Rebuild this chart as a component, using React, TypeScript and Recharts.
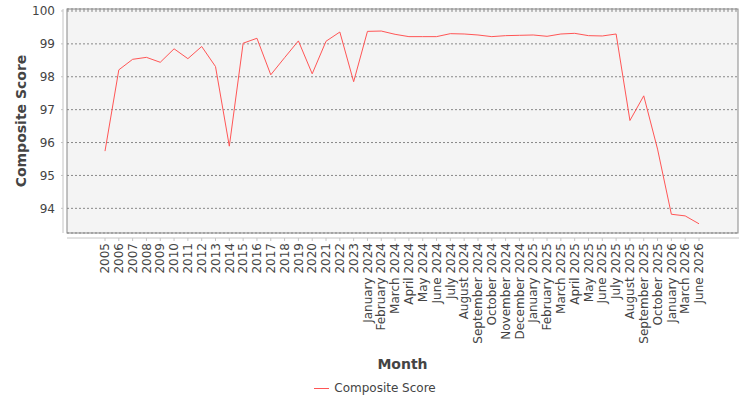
import { LineChart, Line, XAxis, YAxis, CartesianGrid, Legend, usePlotArea } from "recharts";

const months = [
    "2005", "2006", "2007", "2008", "2009", "2010", "2011", "2012", "2013", "2014",
    "2015", "2016", "2017", "2018", "2019", "2020", "2021", "2022", "2023",
    "January 2024", "February 2024", "March 2024", "April 2024", "May 2024", "June 2024",
    "July 2024", "August 2024", "September 2024", "October 2024", "November 2024", "December 2024",
    "January 2025", "February 2025", "March 2025", "April 2025", "May 2025", "June 2025",
    "July 2025", "August 2025", "September 2025", "October 2025",
    "January 2026", "March 2026", "June 2026",
];

const compositeScore = [
    95.74, 98.21, 98.53, 98.59, 98.44, 98.85, 98.55, 98.92, 98.31, 95.89,
    99.02, 99.17, 98.06, 98.58, 99.09, 98.09, 99.08, 99.36, 97.85,
    99.38, 99.39, 99.29, 99.22, 99.22, 99.22,
    99.31, 99.30, 99.27, 99.22, 99.25, 99.26,
    99.27, 99.23, 99.30, 99.32, 99.25, 99.24,
    99.30, 96.67, 97.42, 95.80,
    93.82, 93.77, 93.53,
];

const yTicks = [94, 95, 96, 97, 98, 99, 100];

const data = months.map((month, i) => ({ month, score: compositeScore[i] }));

const FONT = "'DejaVu Sans', sans-serif";
const TEXT = "#444444";
const AXIS = "#c4c4c4";
const LINE = "#ff5555";

const PlotFrame = () => {
    const area = usePlotArea();
    if (!area) return null;
    const { x, y, width, height } = area;
    return (
        <g>
            <rect x={x} y={y} width={width} height={height} fill="none" stroke="#888888" />
            <line x1={x - 4} y1={y} x2={x - 4} y2={y + height} stroke={AXIS} />
            <line x1={x} y1={y + height + 5} x2={x + width + 1} y2={y + height + 5} stroke={AXIS} />
            <text
                x={21}
                y={y + height / 2}
                transform={`rotate(-90, 21, ${y + height / 2})`}
                textAnchor="middle"
                dy="0.35em"
                fontFamily={FONT}
                fontSize={14}
                fontWeight="bold"
                fill={TEXT}
            >
                Composite Score
            </text>
            <text
                x={x + width / 2}
                y={364}
                textAnchor="middle"
                dy="0.35em"
                fontFamily={FONT}
                fontSize={14}
                fontWeight="bold"
                fill={TEXT}
            >
                Month
            </text>
        </g>
    );
};

const MonthTick = (props: any) => {
    const { x, y, payload } = props;
    return (
        <g>
            <line x1={x} y1={y + 5} x2={x} y2={y + 8} stroke={AXIS} />
            <text
                x={x}
                y={y + 10}
                transform={`rotate(-90, ${x}, ${y + 10})`}
                textAnchor="end"
                dy="0.35em"
                fontFamily={FONT}
                fontSize={12}
                fill={TEXT}
            >
                {payload.value}
            </text>
        </g>
    );
};

const ScoreTick = (props: any) => {
    const { x, y, payload } = props;
    return (
        <g>
            <line x1={x - 6} y1={y} x2={x - 4} y2={y} stroke={AXIS} />
            <text x={x - 12} y={y} textAnchor="end" dy="0.35em" fontFamily={FONT} fontSize={12} fill={TEXT}>
                {payload.value}
            </text>
        </g>
    );
};

const LegendContent = (props: any) => {
    const items = props.payload || [];
    return (
        <div style={{ display: "flex", justifyContent: "center", alignItems: "center", lineHeight: "20px" }}>
            {items.map((item: any) => (
                <div key={item.value} style={{ display: "flex", alignItems: "center" }}>
                    <svg width={15} height={20} style={{ display: "block" }}>
                        <line x1={0} y1={10.5} x2={15} y2={10.5} stroke={item.color} />
                    </svg>
                    <span style={{ marginLeft: 5, fontFamily: FONT, fontSize: 12, color: TEXT }}>{item.value}</span>
                </div>
            ))}
        </div>
    );
};

export default function App() {
    return (
        <div style={{ position: "absolute", top: 0, left: 0, width: 750, height: 400, background: "#ffffff" }}>
            <LineChart width={750} height={400} data={data} margin={{ top: 9, right: 12, bottom: 0, left: 0 }}>
                <CartesianGrid fill="#f4f4f4" vertical={false} stroke="#888888" strokeDasharray="2 2" />
                <PlotFrame />
                <XAxis
                    dataKey="month"
                    interval={0}
                    height={167}
                    padding={{ left: 38, right: 39 }}
                    axisLine={false}
                    tickLine={false}
                    tickSize={0}
                    tickMargin={0}
                    tick={<MonthTick />}
                />
                <YAxis
                    type="number"
                    width={67}
                    domain={[93.25, 100.06]}
                    ticks={yTicks}
                    allowDataOverflow={true}
                    axisLine={false}
                    tickLine={false}
                    tickSize={0}
                    tickMargin={0}
                    tick={<ScoreTick />}
                />
                <Legend
                    verticalAlign="middle"
                    align="center"
                    layout="horizontal"
                    content={<LegendContent />}
                    wrapperStyle={{ top: 378, left: 0, width: 750, height: 20 }}
                />
                <Line
                    type="linear"
                    dataKey="score"
                    name="Composite Score"
                    stroke={LINE}
                    strokeWidth={1}
                    dot={false}
                    isAnimationActive={false}
                />
            </LineChart>
        </div>
    );
}
